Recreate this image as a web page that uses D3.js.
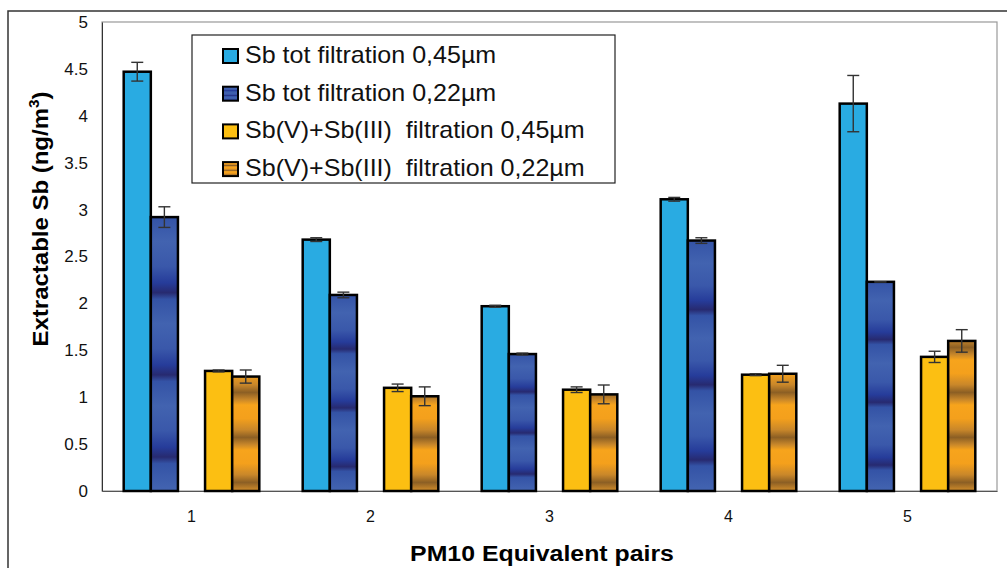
<!DOCTYPE html>
<html>
<head>
<meta charset="utf-8">
<script src="https://cdn.jsdelivr.net/npm/d3@7"></script>
<style>
  body { margin: 0; background: #fff; }
  text { font-family: "Liberation Sans", Arial, sans-serif; }
</style>
</head>
<body>
<svg id="chart" width="1007" height="568"></svg>
<script>
// PM10 pairs, extractable Sb by filtration
const categories = ["1", "2", "3", "4", "5"];
const seriesNames = [
  "Sb tot filtration 0,45µm",
  "Sb tot filtration 0,22µm",
  "Sb(V)+Sb(III)  filtration 0,45µm",
  "Sb(V)+Sb(III)  filtration 0,22µm"
];
const sbTot045 = [4.47, 2.68, 1.97, 3.11, 4.13];
const sbTot045Err = [0.10, 0.02, 0.01, 0.02, 0.30];
const sbTot022 = [2.92, 2.09, 1.46, 2.67, 2.23];
const sbTot022Err = [0.11, 0.03, 0.01, 0.03, 0.00];
const sbSpec045 = [1.28, 1.10, 1.08, 1.24, 1.43];
const sbSpec045Err = [0.01, 0.04, 0.03, 0.01, 0.06];
const sbSpec022 = [1.22, 1.01, 1.03, 1.25, 1.60];
const sbSpec022Err = [0.07, 0.10, 0.10, 0.09, 0.12];
const yTicks = [0, 0.5, 1, 1.5, 2, 2.5, 3, 3.5, 4, 4.5, 5];

const values = [sbTot045, sbTot022, sbSpec045, sbSpec022];
const errors = [sbTot045Err, sbTot022Err, sbSpec045Err, sbSpec022Err];
// slot order inside a group: two "tot" bars, an empty slot, two speciation bars
const slots = ["s0", "s1", "gap", "s2", "s3"];
const slotOf = ["s0", "s1", "s2", "s3"];

const svg = d3.select("#chart");
const plot = {left: 102, right: 997, top: 22, bottom: 491};

// gradients
const defs = svg.append("defs");
function stripes(id, stops, units, y2) {
  const g = defs.append("linearGradient").attr("id", id)
    .attr("x1", 0).attr("y1", 0).attr("x2", 0).attr("y2", y2)
    .attr("spreadMethod", "repeat");
  if (units) g.attr("gradientUnits", units);
  stops.forEach(s => g.append("stop").attr("offset", s[0]).attr("stop-color", s[1]));
}
const blueStops = [[0, "#3453a6"], [0.3, "#4263b0"], [0.6, "#3a58aa"], [0.8, "#263c9a"], [0.92, "#272a70"], [1, "#3453a6"]];
const orangeStops = [[0, "#f7a41c"], [0.3, "#f4a01c"], [0.55, "#c9872a"], [0.72, "#8c5f24"], [0.88, "#c8872a"], [1, "#f7a41c"]];
stripes("blueBar", blueStops, null, 0.3);
stripes("orangeBar", orangeStops, "userSpaceOnUse", 45);
stripes("blueKey", blueStops, null, 0.34);
stripes("orangeKey", orangeStops, null, 0.34);

const barFill = ["#29abe2", "url(#blueBar)", "#fcbf12", "url(#orangeBar)"];
const keyFill = ["#29abe2", "url(#blueKey)", "#fcbf12", "url(#orangeKey)"];

// outer frame
svg.append("rect").attr("x", 8).attr("y", 11).attr("width", 1010).attr("height", 570)
  .attr("fill", "none").attr("stroke", "#333").attr("stroke-width", 1.5);

const x = d3.scaleBand().domain(categories).range([plot.left, plot.right]);
const xs = d3.scaleBand().domain(slots).range([0, x.bandwidth()]).paddingOuter(0.8);
const y = d3.scaleLinear().domain([0, 5]).range([plot.bottom, plot.top]);

// plot area frame
svg.append("rect").attr("x", plot.left).attr("y", plot.top)
  .attr("width", plot.right - plot.left).attr("height", plot.bottom - plot.top)
  .attr("fill", "none").attr("stroke", "#999").attr("stroke-width", 1.2);

// y axis
const yAxis = svg.append("g").attr("transform", `translate(${plot.left},0)`)
  .call(d3.axisLeft(y).tickValues(yTicks).tickSize(0).tickPadding(14).tickFormat(d3.format("")));
yAxis.select(".domain").attr("stroke", "#333");
yAxis.selectAll("text").attr("font-size", 17).attr("fill", "#111");

// x axis
const xAxis = svg.append("g").attr("transform", `translate(0,${plot.bottom})`)
  .call(d3.axisBottom(x).tickSize(0).tickPadding(20));
xAxis.select(".domain").attr("stroke", "#555");
xAxis.selectAll("text").attr("font-size", 16).attr("fill", "#111");

// bars
values.forEach((vals, si) => {
  const g = svg.append("g");
  g.selectAll("rect").data(vals).join("rect")
    .attr("x", (d, i) => x(categories[i]) + xs(slotOf[si]))
    .attr("y", d => y(d))
    .attr("width", xs.bandwidth())
    .attr("height", d => y(0) - y(d))
    .attr("fill", barFill[si])
    .attr("stroke", "#000")
    .attr("stroke-width", 2.5);

  const eg = svg.append("g").attr("stroke", "#333").attr("stroke-width", 1.4);
  vals.forEach((d, i) => {
    const cx = x(categories[i]) + xs(slotOf[si]) + xs.bandwidth() / 2;
    const e = errors[si][i];
    eg.append("line").attr("x1", cx).attr("x2", cx).attr("y1", y(d + e)).attr("y2", y(d - e));
    eg.append("line").attr("x1", cx - 6).attr("x2", cx + 6).attr("y1", y(d + e)).attr("y2", y(d + e));
    eg.append("line").attr("x1", cx - 6).attr("x2", cx + 6).attr("y1", y(d - e)).attr("y2", y(d - e));
  });
});

// axis titles (the original font is a bit wider than Liberation Sans)
svg.append("text").attr("transform", "translate(542,561) scale(1.13,1)")
  .attr("text-anchor", "middle")
  .attr("font-size", 22).attr("font-weight", "bold").text("PM10 Equivalent pairs");
const yt = svg.append("text").attr("transform", "translate(48,219) rotate(-90) scale(1.09,1)")
  .attr("text-anchor", "middle").attr("font-size", 22).attr("font-weight", "bold");
yt.append("tspan").text("Extractable Sb (ng/m");
yt.append("tspan").attr("font-size", 14).attr("dy", -9).text("3");
yt.append("tspan").attr("dy", 9).text(")");

// legend
const lg = svg.append("g").attr("transform", "translate(192,35)");
lg.append("rect").attr("width", 423).attr("height", 148).attr("fill", "#fff")
  .attr("stroke", "#222").attr("stroke-width", 1.2);
seriesNames.forEach((name, i) => {
  const row = lg.append("g").attr("transform", `translate(0,${14 + i * 37.7})`);
  row.append("rect").attr("x", 31).attr("y", 0).attr("width", 15).attr("height", 14)
    .attr("fill", keyFill[i]).attr("stroke", "#000").attr("stroke-width", 2);
  row.append("text").attr("transform", "translate(53,14) scale(1.09,1)").attr("font-size", 23)
    .style("white-space", "pre").attr("fill", "#111").text(name);
});
</script>
</body>
</html>
